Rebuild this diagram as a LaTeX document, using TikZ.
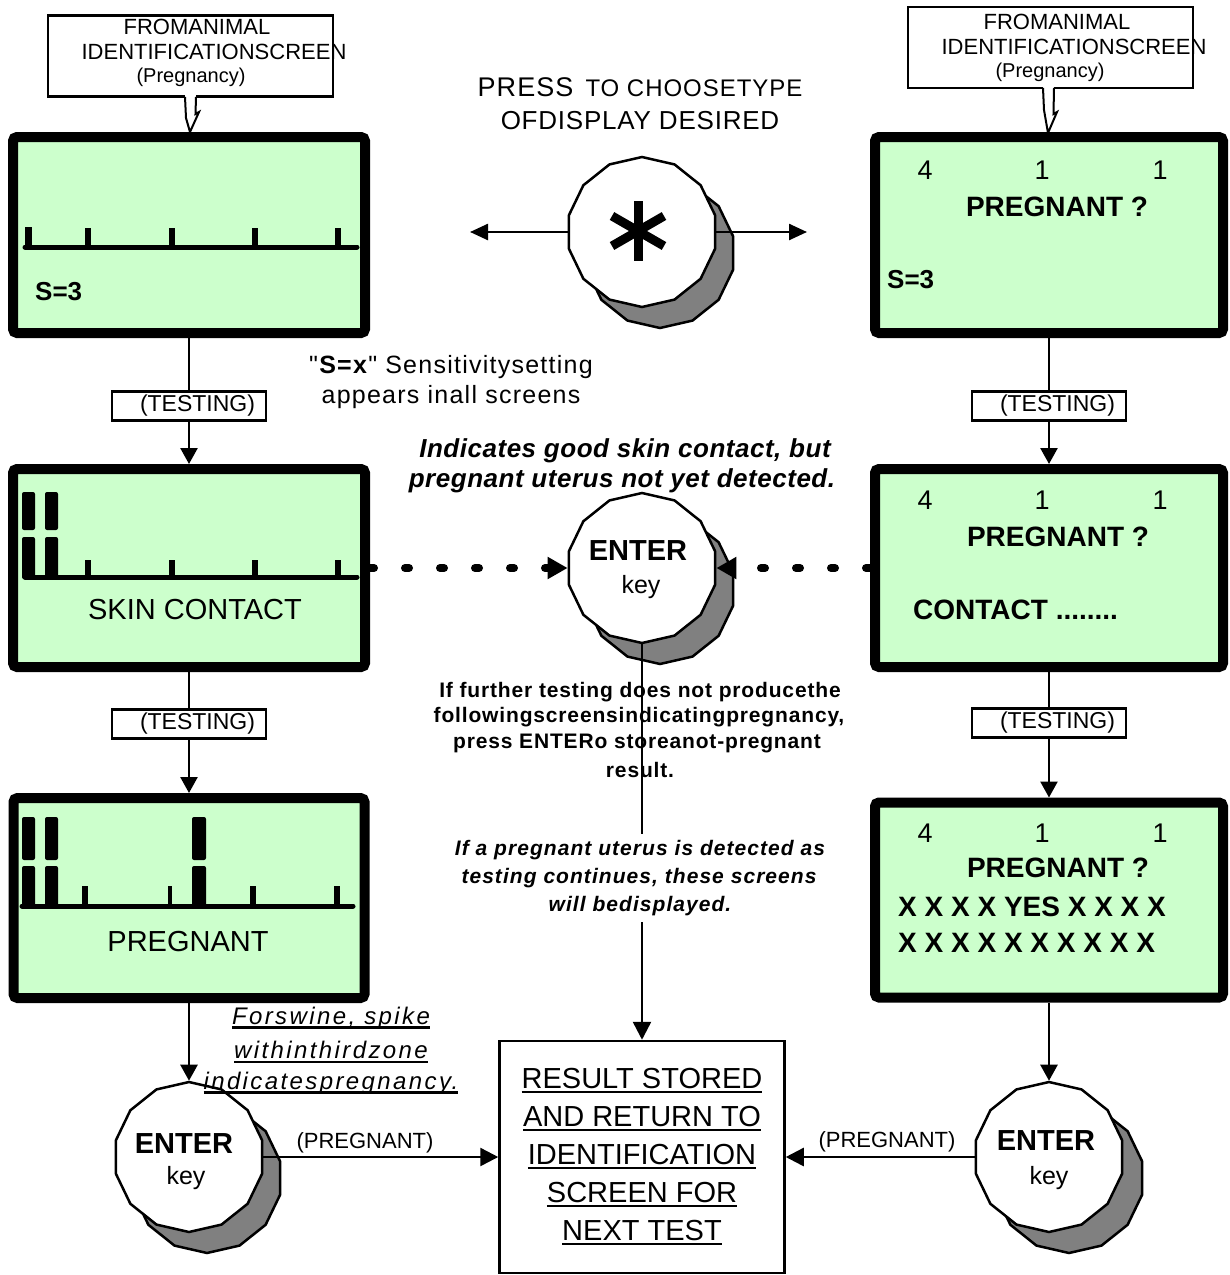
\documentclass[tikz,border=0pt]{standalone}
\usepackage{fontspec}
\setmainfont{Liberation Sans}
\newfontfamily\qfont{Liberation Sans}
\usetikzlibrary{arrows.meta,shapes.geometric}
\definecolor{lcd}{HTML}{CCFFCC}
\definecolor{keyshade}{HTML}{808080}
\newsavebox\ulbox
\newcommand\ulin[1]{\sbox\ulbox{#1}\rlap{\rule[-4.5pt]{\wd\ulbox}{2.4pt}}\usebox\ulbox}
\newcommand\fz[2]{\fontsize{#1}{#2}\selectfont}
\newcommand\lsp[1]{\addfontfeatures{LetterSpace=#1}}
\newcommand\sq{{\qfont\addfontfeatures{LetterSpace=5}"}}
\begin{document}
\begin{tikzpicture}[x=1pt,y=-1pt,
  txt/.style={inner sep=0pt},
  screen/.style={draw, line width=10pt, fill=lcd, rounded corners=4pt, inner sep=0pt},
  tbox/.style={draw, line width=2.5pt, fill=white, inner sep=0pt, minimum width=154pt, minimum height=29pt, font=\fz{23}{27}},
  callbox/.style={draw, line width=2.5pt, fill=white, minimum width=285pt, minimum height=81pt, inner sep=0pt},
  keyshape/.style={regular polygon, regular polygon sides=14, regular polygon rotate=12.857, minimum size=150pt, inner sep=0pt, draw, line width=2.5pt},
  key/.style={keyshape, fill=white},
  keyshadow/.style={keyshape, fill=keyshade},
  keytop/.style={txt, font=\fz{29}{34}\bfseries},
  keybot/.style={txt, font=\fz{25}{30}},
  flow/.style={line width=2.5pt, -{Triangle[length=16pt,width=17pt]}},
  plain/.style={line width=2.5pt},
  dotflow/.style={line width=8pt, line cap=round, dash pattern=on 4pt off 31pt, -{Triangle[length=20pt,width=21pt]}},
  base/.style={line width=5pt, line cap=round},
  tick/.style={line width=6pt},
  bar/.style={fill=black, rounded corners=2pt},
  tail/.style={line width=2pt, line join=miter}
]
\useasboundingbox (0,0) rectangle (1230,1275);

% ---------- callouts ----------
\node[callbox] (cL) at (190.5,56) {};
\fill[white] (185,95) -- (186,118) -- (190,132) -- (199,112) -- (195.5,114) -- (196,95) -- cycle;
\draw[tail] (185,97) -- (186,118) -- (190,132) -- (199,112) -- (195.5,114) -- (196,97);
\node[txt, font=\fz{22}{26}] (cL1) at (197,27) {FROMANIMAL};
\node[txt, font=\fz{22}{26}] (cL2) at (214,52) {IDENTIFICATIONSCREEN};
\node[txt, font=\fz{20}{24}] (cL3) at (191,77) {(Pregnancy)};

\node[callbox] (cR) at (1050.5,47.5) {};
\fill[white] (1043,86) -- (1044,110) -- (1048,133) -- (1057,112) -- (1053.5,114) -- (1054,86) -- cycle;
\draw[tail] (1043,88) -- (1044,110) -- (1048,133) -- (1057,112) -- (1053.5,114) -- (1054,88);
\node[txt, font=\fz{22}{26}] (cR1) at (1057,22) {FROMANIMAL};
\node[txt, font=\fz{22}{26}] (cR2) at (1074,47) {IDENTIFICATIONSCREEN};
\node[txt, font=\fz{20}{24}] (cR3) at (1050,72) {(Pregnancy)};

% ---------- left screens ----------
\node[screen, minimum width=352pt, minimum height=196pt] (L1) at (189,235) {};
\draw[base] (25,247) -- (357,247);
\draw[tick, line width=7pt] (28,227) -- (28,247);
\foreach \x in {88,172,255,338} \draw[tick] (\x,228) -- (\x,247);
\node[txt, anchor=west, font=\fz{26}{30}\bfseries] (L1s) at (35,292) {S=3};

\node[screen, minimum width=352pt, minimum height=198pt] (L2) at (189,568) {};
\fill[bar] (22,492) rectangle (35,530);
\fill[bar] (45,492) rectangle (58,530);
\fill[bar] (22,537) rectangle (35,579);
\fill[bar] (45,537) rectangle (58,579);
\draw[base] (25,577) -- (357,577);
\foreach \x in {88,172,255,338} \draw[tick] (\x,560) -- (\x,577);
\node[txt, font=\fz{29}{34}] (L2t) at (195,610) {SKIN CONTACT};

\node[screen, minimum width=351pt, minimum height=200pt] (L3) at (189,898) {};
\fill[bar] (22,817) rectangle (35,860);
\fill[bar] (45,817) rectangle (58,860);
\fill[bar] (22,866) rectangle (35,908);
\fill[bar] (45,866) rectangle (58,908);
\fill[bar] (192,817) rectangle (206,860);
\fill[bar] (192,866) rectangle (206,908);
\draw[base] (22,906) -- (353,906);
\foreach \x in {85,253,337} \draw[tick] (\x,886) -- (\x,906);
\draw[line width=3.5pt] (170,886) -- (170,906);
\node[txt, font=\fz{29}{34}] (L3t) at (188,942) {PREGNANT};

% ---------- right screens ----------
\node[screen, minimum width=348pt, minimum height=196pt] (R1) at (1049,235) {};
\node[txt, font=\fz{27}{32}] (R1a) at (925,170) {4};
\node[txt, font=\fz{27}{32}] (R1b) at (1042,170) {1};
\node[txt, font=\fz{27}{32}] (R1c) at (1160,170) {1};
\node[txt, font=\fz{28}{32}\bfseries] (R1p) at (1057,207) {PREGNANT ?};
\node[txt, anchor=west, font=\fz{26}{30}\bfseries] (R1s) at (887,280) {S=3};

\node[screen, minimum width=348pt, minimum height=198pt] (R2) at (1049,568) {};
\node[txt, font=\fz{27}{32}] (R2a) at (925,500) {4};
\node[txt, font=\fz{27}{32}] (R2b) at (1042,500) {1};
\node[txt, font=\fz{27}{32}] (R2c) at (1160,500) {1};
\node[txt, font=\fz{28}{32}\bfseries] (R2p) at (1058,537) {PREGNANT ?};
\node[txt, anchor=west, font=\fz{28}{32}\bfseries] (R2s) at (913,610) {CONTACT ........};

\node[screen, minimum width=348pt, minimum height=195pt] (R3) at (1049,900) {};
\node[txt, font=\fz{27}{32}] (R3a) at (925,833) {4};
\node[txt, font=\fz{27}{32}] (R3b) at (1042,833) {1};
\node[txt, font=\fz{27}{32}] (R3c) at (1160,833) {1};
\node[txt, font=\fz{28}{32}\bfseries] (R3p) at (1058,868) {PREGNANT ?};
\node[txt, anchor=west, font=\fz{28}{32}\bfseries] (R3x) at (898,907) {X X X X YES X X X X};
\node[txt, anchor=west, font=\fz{28}{32}\bfseries] (R3y) at (898,943) {X X X X X X X X X X};

% ---------- testing boxes ----------
\node[tbox] (T1L) at (189,406) {\hspace*{17pt}(TESTING)};
\node[tbox] (T2L) at (189,724) {\hspace*{17pt}(TESTING)};
\node[tbox] (T1R) at (1049,406) {\hspace*{17pt}(TESTING)};
\node[tbox] (T2R) at (1049,723) {\hspace*{17pt}(TESTING)};

% ---------- keys ----------
\node[keyshadow] (starsh) at (660,253) {};
\node[key] (starkey) at (642,232) {};
\begin{scope}[shift={(638,231)}, line width=9pt]
  \draw (0,-30) -- (0,30);
  \draw (-26,-15) -- (26,15);
  \draw (-26,15) -- (26,-15);
\end{scope}

\node[keyshadow] (midsh) at (660,589) {};
\node[key] (midkey) at (642,568) {};
\node[keytop] (midkeyA) at (638,551) {ENTER};
\node[keybot] (midkeyB) at (641,587) {key};

\node[keyshadow] (lsh) at (207,1178) {};
\node[key] (lkey) at (189,1157) {};
\node[keytop] (lkeyA) at (184,1144) {ENTER};
\node[keybot] (lkeyB) at (186,1178) {key};

\node[keyshadow] (rsh) at (1069,1178) {};
\node[key] (rkey) at (1049,1157) {};
\node[keytop] (rkeyA) at (1046,1141) {ENTER};
\node[keybot] (rkeyB) at (1049,1178) {key};

% ---------- result box ----------
\node[draw, line width=2.5pt, minimum width=285pt, minimum height=232pt, align=center, font=\fz{29}{38}, inner sep=0pt] (res) at (642,1157)
  {\ulin{RESULT STORED}\\\ulin{AND RETURN TO}\\\ulin{IDENTIFICATION}\\\ulin{SCREEN FOR}\\\ulin{NEXT TEST}};

% ---------- connectors ----------
\coordinate (sl) at (470,232);
\coordinate (sr) at (807,232);
\draw[line width=2.5pt, -{Triangle[length=18pt,width=16pt]}] (starkey.west) -- (sl);
\draw[line width=2.5pt, -{Triangle[length=18pt,width=16pt]}] (starkey.east) -- (sr);

\draw[plain] (L1.south) -- (T1L.north);
\draw[flow] (T1L.south) -- (L2.north);
\draw[plain] (L2.south) -- (T2L.north);
\draw[flow] (T2L.south) -- (L3.north);
\draw[flow] (L3.south) -- (lkey.north);

\draw[plain] (R1.south) -- (T1R.north);
\draw[flow] (T1R.south) -- (R2.north);
\draw[plain] (R2.south) -- (T2R.north);
\draw[flow] (T2R.south) -- (R3.north);
\draw[flow] (R3.south) -- (rkey.north);

\draw[line width=2.5pt, -{Triangle[length=18pt,width=18pt]}] (lkey.east) -- (res.west);
\draw[line width=2.5pt, -{Triangle[length=18pt,width=18pt]}] (rkey.west) -- (res.east);
\draw[line width=2.5pt, -{Triangle[length=18pt,width=18pt]}] (midkey.south) -- (res.north);

\draw[dotflow] (L2.east) -- (midkey.west);
\draw[dotflow] (R2.west) -- (midkey.east);

% ---------- labels ----------
\node[txt, font=\fz{22}{26}] (pl) at (365,1143) {(PREGNANT)};
\node[txt, font=\fz{22}{26}] (pr) at (887,1142) {(PREGNANT)};

\node[txt, font=\fz{27}{32}\lsp{4}] (press1) at (640,87) {PRESS\hspace{12pt}{\fz{24}{28}TO CHOOSETYPE}};
\node[txt, font=\fz{26}{30}\lsp{3}] (press2) at (640,121) {OFDISPLAY DESIRED};

\node[txt, font=\fz{25}{30}\lsp{5}] (sens1) at (451,367) {\sq\textbf{S=x}\sq{} Sensitivitysetting};
\node[txt, font=\fz{25}{30}\lsp{5}] (sens2) at (451,397) {appears inall screens};

\node[txt, font=\fz{26}{30}\bfseries\itshape\lsp{2}] (ind1) at (625,451) {Indicates good skin contact, but};
\node[txt, font=\fz{26}{30}\bfseries\itshape\lsp{2}] (ind2) at (622,481) {pregnant uterus not yet detected.};

\node[txt, font=\fz{21}{25}\bfseries\lsp{4}] (ff1) at (640,692) {If further testing does not producethe};
\node[txt, font=\fz{21}{25}\bfseries\lsp{4}] (ff2) at (639,717) {followingscreensindicatingpregnancy,};
\node[txt, font=\fz{21}{25}\bfseries\lsp{4}] (ff3) at (637,743) {press ENTERo storeanot-pregnant};
\node[txt, font=\fz{21}{25}\bfseries\lsp{4}] (ff4) at (640,770) {result.};

\node[fill=white, inner xsep=2pt, inner ysep=6pt, font=\fz{21}{25}\bfseries\itshape\lsp{5}] (it1) at (640,850) {If a pregnant uterus is detected as};
\node[fill=white, inner xsep=2pt, inner ysep=6pt, font=\fz{21}{25}\bfseries\itshape\lsp{5}] (it2) at (639,878) {testing continues, these screens};
\node[fill=white, inner xsep=2pt, inner ysep=6pt, font=\fz{21}{25}\bfseries\itshape\lsp{5}] (it3) at (640,906) {will bedisplayed.};

\node[txt, font=\fz{24}{28}\itshape\lsp{10}] (sw1) at (331,1018) {\ulin{Forswine, spike}};
\node[txt, font=\fz{24}{28}\itshape\lsp{10}] (sw2) at (331,1052) {\ulin{withinthirdzone}};
\node[txt, font=\fz{24}{28}\itshape\lsp{10}] (sw3) at (331,1083) {\ulin{indicatespregnancy.}};
\end{tikzpicture}
\end{document}
